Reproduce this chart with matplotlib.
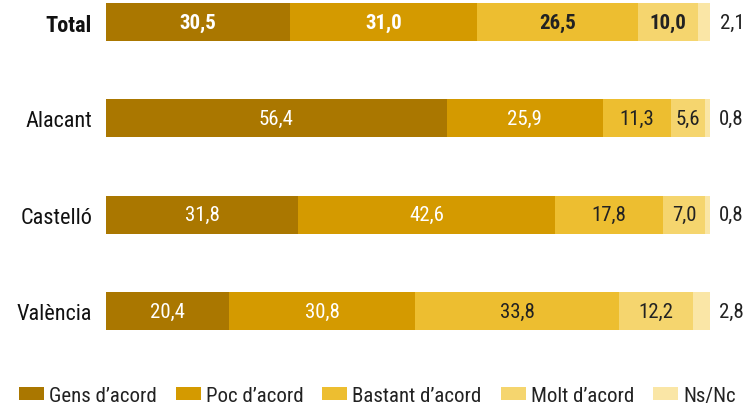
import matplotlib
matplotlib.use("Agg")
import matplotlib.pyplot as plt

categories = ["Total", "Alacant", "Castelló", "València"]
series_names = ["Gens d’acord", "Poc d’acord", "Bastant d’acord", "Molt d’acord", "Ns/Nc"]
gens = [30.5, 56.4, 31.8, 20.4]
poc = [31.0, 25.9, 42.6, 30.8]
bastant = [26.5, 11.3, 17.8, 33.8]
molt = [10.0, 5.6, 7.0, 12.2]
nsnc = [2.1, 0.8, 0.8, 2.8]
series = [gens, poc, bastant, molt, nsnc]
colors = ["#AA7700", "#D49A00", "#EDBE30", "#F5D56E", "#FAE6A6"]
text_colors = ["white", "white", "#222222", "#222222", "#222222"]

plt.rcParams['font.family'] = ['Roboto Condensed', 'Liberation Sans Narrow', 'Roboto', 'DejaVu Sans']

fig = plt.figure(figsize=(7.49, 4.06), dpi=100)
W, H = 749, 406
pitch = 96.3
ax = fig.add_axes([106 / W, (H - 345) / H, 604 / W, 345 / H])
ytop = -23 / pitch
ax.set_ylim(ytop + 345 / pitch, ytop)
ax.set_xlim(0, 100)

FS = 15
ys = list(range(len(categories)))
left = [0.0] * len(categories)
handles = []
for si, (vals, col) in enumerate(zip(series, colors)):
    bc = ax.barh(ys, vals, left=left, height=0.395, color=col, label=series_names[si], linewidth=0)
    handles.append(bc)
    for i, v in enumerate(vals):
        bold = (i == 0)
        if si < 4:
            ax.text(left[i] + v / 2, ys[i], f"{v:.1f}".replace(".", ","), ha="center", va="center",
                    color=text_colors[si], fontsize=FS, fontweight="bold" if bold else "normal")
        else:
            ax.text(left[i] + v + 1.5, ys[i], f"{v:.1f}".replace(".", ","), ha="left", va="center",
                    color="#222222", fontsize=FS)
    left = [l + v for l, v in zip(left, vals)]

ax.set_yticks(ys)
ax.set_yticklabels(categories, fontsize=16, color="#111111")
for lbl in ax.get_yticklabels():
    if lbl.get_text() == "Total":
        lbl.set_fontweight("bold")
ax.tick_params(axis="y", length=0, pad=10)
ax.set_xticks([])
for s in ax.spines.values():
    s.set_visible(False)

legend_x = [19, 176, 322, 501, 653]
LFS = 15
for h, name, lx in zip(handles, series_names, legend_x):
    fig.legend([h], [name], loc="center left", bbox_to_anchor=(lx / W, 9.5 / H), frameon=False,
               fontsize=LFS, handlelength=25 / (LFS * 100 / 72), handleheight=13 / (LFS * 100 / 72),
               handletextpad=5 / (LFS * 100 / 72),
               borderpad=0, borderaxespad=0, labelcolor="#222222")

fig.savefig("out.png", dpi=100)
